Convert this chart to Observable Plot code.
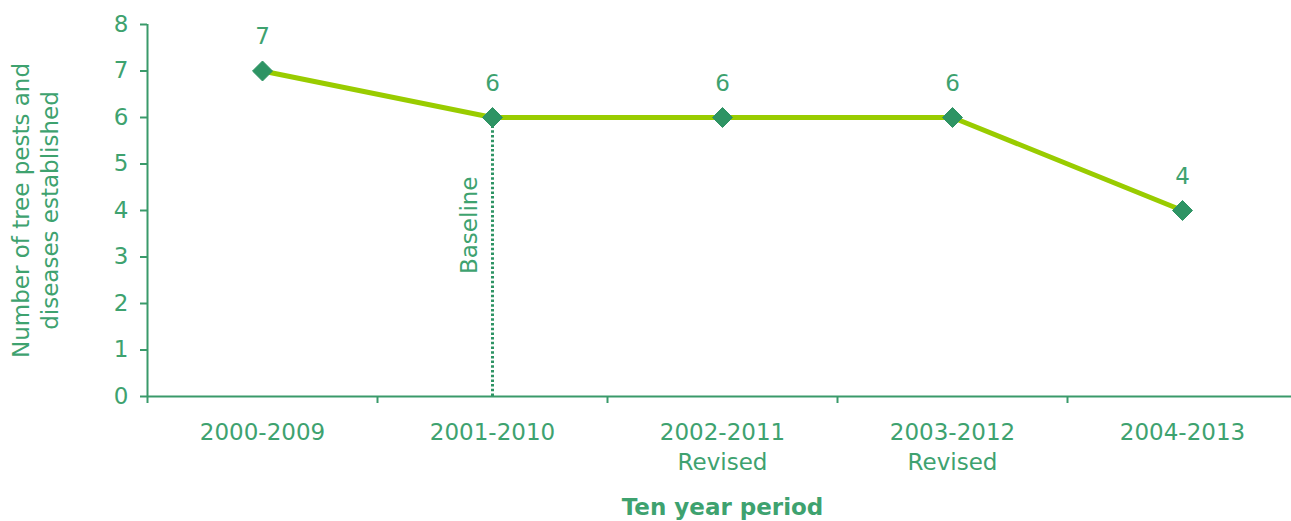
<!DOCTYPE html>
<html>
<head>
<meta charset="utf-8">
<script src="https://cdn.jsdelivr.net/npm/d3@7"></script>
<script src="https://cdn.jsdelivr.net/npm/@observablehq/plot@0.6"></script>
<style>
  html, body { margin: 0; padding: 0; background: #ffffff; }
</style>
</head>
<body>
<div id="chart"></div>
<script>
// Ten-year periods and the number of tree pests and diseases established in each
const periods = ["2000-2009", "2001-2010", "2002-2011", "2003-2012", "2004-2013"];
const notes = ["", "", "Revised", "Revised", ""];
const counts = [7, 6, 6, 6, 4];
const baselinePeriod = "2001-2010";
const yTicks = [0, 1, 2, 3, 4, 5, 6, 7, 8];
const xTitle = "Ten year period";
const yTitle = "Number of tree pests and\ndiseases established";

const textColor = "#3ea26f";
const axisColor = "#3a9a6a";
const markerColor = "#2e9464";
const lineColor = "#99cc00";

// Periods sit in the middle of equal slots on a linear x scale (slot i spans i..i+1)
const rows = periods.map((p, i) => ({
  period: p,
  pos: i + 0.5,
  count: counts[i],
  label: notes[i] ? `${p}\n${notes[i]}` : p
}));
const baseline = rows.filter(d => d.period === baselinePeriod);
const slotEdges = d3.range(periods.length + 1);

const chart = Plot.plot({
  width: 1291,
  height: 521,
  marginLeft: 147,
  marginRight: 0,
  marginTop: 24,
  marginBottom: 125,
  style: { fontFamily: "'DejaVu Sans', Verdana, sans-serif", fontSize: "23px", color: textColor, background: "#ffffff" },
  x: { domain: [0, periods.length], range: [147, 1297], axis: null },
  y: { domain: [0, 8], axis: null },
  marks: [
    // axis lines
    Plot.ruleX([0], { stroke: axisColor, strokeWidth: 2 }),
    Plot.ruleY([0], { stroke: axisColor, strokeWidth: 2 }),
    Plot.axisY({ ticks: yTicks, tickSize: 7, tickPadding: 12, stroke: axisColor, strokeWidth: 2, fill: textColor, fontSize: 23, label: null }),
    Plot.axisX({ ticks: slotEdges, tickSize: 7, tickFormat: () => "", stroke: axisColor, strokeWidth: 2, label: null }),
    // period labels under each slot
    Plot.text(rows, { x: "pos", y: () => 0, text: "label", lineAnchor: "top", dy: 22, lineHeight: 1.3, fill: textColor, fontSize: 23 }),
    // axis titles
    Plot.text([xTitle], { x: () => periods.length / 2, y: () => 0, text: d => d, dy: 111, fontWeight: "bold", fill: textColor, fontSize: 23 }),
    Plot.text([yTitle], { frameAnchor: "left", textAnchor: "middle", lineAnchor: "middle", text: d => d, rotate: -90, dx: -113, lineHeight: 1.22, fill: textColor, fontSize: 23 }),
    // baseline marker
    Plot.ruleX(baseline, { x: "pos", y1: () => 0, y2: "count", stroke: markerColor, strokeWidth: 3, strokeDasharray: "2.5,2.2" }),
    Plot.text(baseline, { x: "pos", y: "count", text: () => "Baseline", rotate: -90, textAnchor: "end", dx: -23, dy: 59, fill: textColor, fontSize: 23 }),
    // series
    Plot.line(rows, { x: "pos", y: "count", stroke: lineColor, strokeWidth: 5 }),
    Plot.dot(rows, { x: "pos", y: "count", symbol: "diamond2", r: 9, fill: markerColor, stroke: markerColor, strokeWidth: 1 }),
    Plot.text(rows, { x: "pos", y: "count", text: "count", dy: -34, fill: textColor, fontSize: 23 })
  ]
});

document.getElementById("chart").appendChild(chart);
</script>
</body>
</html>
